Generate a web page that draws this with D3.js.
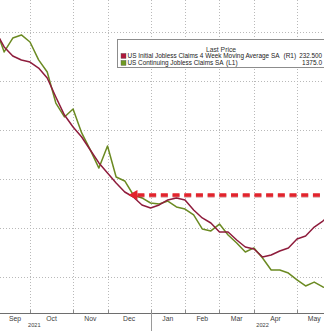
<!DOCTYPE html>
<html><head><meta charset="utf-8">
<script src="https://cdn.jsdelivr.net/npm/d3@7"></script>
<style>
html,body{margin:0;padding:0;background:#fff;overflow:hidden}
svg{display:block;font-family:"Liberation Sans",Arial,sans-serif}
</style></head>
<body>
<svg id="c" width="324" height="331"></svg>
<script>
// weekly observation dates (Fridays)
const dates = ["2021-09-03","2021-09-10","2021-09-17","2021-09-24","2021-10-01","2021-10-08","2021-10-15","2021-10-22","2021-10-29",
"2021-11-05","2021-11-12","2021-11-19","2021-11-26","2021-12-03","2021-12-10","2021-12-17","2021-12-24","2021-12-31",
"2022-01-07","2022-01-14","2022-01-21","2022-01-28","2022-02-04","2022-02-11","2022-02-18","2022-02-25",
"2022-03-04","2022-03-11","2022-03-18","2022-03-25","2022-04-01","2022-04-08","2022-04-15","2022-04-22","2022-04-29",
"2022-05-06","2022-05-13","2022-05-20","2022-05-27","2022-06-03"];
// US Continuing Jobless Claims SA (L1), thousands
const continuing = [2924,2778,2863,2882,2839,2729,2655,2465,2380,2429,2282,2178,2067,2202,2012,1988,1902,1884,1853,1847,1865,1829,1816,1780,1694,1682,1724,1657,1608,1553,1578,1516,1443,1443,1424,1382,1345,1369,1339,1330];
// US Initial Jobless Claims 4 Week Moving Average SA (R1), thousands
const initial4wk = [360.8,347.8,340.4,337.1,335.5,330.6,322.4,306.9,292.2,282.4,274.3,263.7,253.1,244.9,236.7,229.4,225.3,218.8,216.3,218.8,222.9,224.5,222.9,214.7,208.2,204.1,196.7,196.7,190.2,184.5,182.9,176.3,178.0,181.2,183.7,191.0,193.5,200.8,205.7,212.0];
// axis / grid
const leftTicks = [1400,1700,2000,2300,2600,2900];
const monthStarts = ["2021-09-03","2021-10-01","2021-11-05","2021-12-03","2022-01-07","2022-02-04","2022-03-04","2022-04-01","2022-05-06","2022-06-03"];
const monthLabels = ["Sep","Oct","Nov","Dec","Jan","Feb","Mar","Apr","May"];
const yearBreak = "2022-01-07";
const chartSpan = ["2021-07-02","2022-07-08"];
const yearLabels = ["2021","2022"];
// legend
const legendTitle = "Last Price";
const seriesNames = ["US Initial Jobless Claims 4 Week Moving Average SA","US Continuing Jobless Claims SA"];
const seriesAxes = ["(R1)","(L1)"];
const lastValues = ["232.500","1375.0"];
// annotation: arrow at last value level
const arrowLevel = 227;
const arrowDate = "2021-12-20";

const P = d3.timeParse("%Y-%m-%d");
const svg = d3.select("#c");
const W = 324, H = 331, axisY = 313;

const x = d3.scaleTime().domain([P("2021-10-01"), P("2022-05-06")]).range([30, 297]);
const yL = d3.scaleLinear().domain([1400, 2900]).range([277, 32]);
const yR = d3.scaleLinear().domain([160, 360]).range([277, 32]);

svg.append("rect").attr("width", W).attr("height", H).attr("fill", "#fff");

// horizontal grid
svg.append("g").selectAll("line").data(leftTicks).join("line")
  .attr("x1", 0).attr("x2", W)
  .attr("y1", d => Math.round(yL(d)) + 0.5).attr("y2", d => Math.round(yL(d)) + 0.5)
  .attr("stroke", "#b9b9b9").attr("stroke-width", 1).attr("stroke-dasharray", "1,2");

// vertical grid
const gridDates = monthStarts.slice(1, 9).map(P);
svg.append("g").selectAll("line").data(gridDates).join("line")
  .attr("x1", d => Math.round(x(d)) + 0.5).attr("x2", d => Math.round(x(d)) + 0.5)
  .attr("y1", 0).attr("y2", axisY)
  .attr("stroke", "#b9b9b9").attr("stroke-width", 1).attr("stroke-dasharray", "1,2");

// axis line
svg.append("line").attr("x1", 0).attr("x2", W).attr("y1", axisY + 0.5).attr("y2", axisY + 0.5)
  .attr("stroke", "#6e6e6e").attr("stroke-width", 1);
// year separator
const xb = Math.round(x(P(yearBreak))) + 0.5;
svg.append("line").attr("x1", xb).attr("x2", xb).attr("y1", axisY).attr("y2", H)
  .attr("stroke", "#9a9a9a").attr("stroke-width", 1);
// small ticks
svg.append("g").selectAll("line").data(gridDates).join("line")
  .attr("x1", d => Math.round(x(d)) + 0.5).attr("x2", d => Math.round(x(d)) + 0.5)
  .attr("y1", axisY - 3).attr("y2", axisY)
  .attr("stroke", "#8a8a8a");

// month labels
const ms = monthStarts.map(P);
svg.append("g").selectAll("text").data(monthLabels).join("text")
  .attr("x", (d, i) => (Math.max(0, x(ms[i])) + x(ms[i + 1])) / 2)
  .attr("y", 321)
  .attr("text-anchor", "middle").attr("font-size", 6.8).attr("fill", "#3c3c3c")
  .text(d => d);
// year labels
const yb = P(yearBreak), cs = chartSpan.map(P);
const yPos = [(x(cs[0]) + x(yb)) / 2, (x(yb) + x(cs[1])) / 2];
svg.append("g").selectAll("text").data(yearLabels).join("text")
  .attr("x", (d, i) => yPos[i]).attr("y", 326.8)
  .attr("text-anchor", "middle").attr("font-size", 5.6).attr("fill", "#3c3c3c")
  .text(d => d);

// series
const pts = dates.map((d, i) => ({ d: P(d), c: continuing[i], r: initial4wk[i] }));
svg.append("path").datum(pts)
  .attr("d", d3.line().x(p => x(p.d)).y(p => yL(p.c)))
  .attr("fill", "none").attr("stroke", "#6b8a22").attr("stroke-width", 1.5).attr("stroke-linejoin", "round");
svg.append("path").datum(pts)
  .attr("d", d3.line().x(p => x(p.d)).y(p => yR(p.r)))
  .attr("fill", "none").attr("stroke", "#8e1c3c").attr("stroke-width", 1.5).attr("stroke-linejoin", "round");

// annotation arrow
const ay = yR(arrowLevel), ax = x(P(arrowDate));
svg.append("line").attr("x1", ax + 9).attr("x2", W + 5).attr("y1", ay + 1).attr("y2", ay + 1)
  .attr("stroke", "#9c1a20").attr("stroke-opacity", 0.35).attr("stroke-width", 3.5).attr("stroke-dasharray", "7,4.7");
svg.append("line").attr("x1", ax + 9).attr("x2", W + 5).attr("y1", ay).attr("y2", ay)
  .attr("stroke", "#e2232c").attr("stroke-width", 3.4).attr("stroke-dasharray", "7,4.7");
svg.append("path")
  .attr("d", `M${ax},${ay} L${ax + 9},${ay - 5} L${ax + 9},${ay + 5} Z`)
  .attr("fill", "#e2232c");

// legend
const lg = svg.append("g");
lg.append("rect").attr("x", 117.5).attr("y", 39.5).attr("width", 220).attr("height", 28)
  .attr("fill", "#fff").attr("stroke", "#8c8c8c").attr("stroke-width", 1);
lg.append("text").attr("x", 221).attr("y", 51.8).attr("text-anchor", "middle")
  .attr("font-size", 6.8).attr("fill", "#333").text(legendTitle);
const swCols = ["#b0183c", "#6e9a22"];
const rowsY = [56, 63];
const nameLen = [152, 96];
const axX = [283.5, 226];
seriesNames.forEach((n, i) => {
  lg.append("rect").attr("x", 121).attr("y", rowsY[i] - 2.6).attr("width", 5).attr("height", 5)
    .attr("fill", swCols[i]).attr("stroke", "#555").attr("stroke-width", 0.4);
  lg.append("text").attr("x", 127.5).attr("y", rowsY[i] + 2.3).attr("font-size", 6.5).attr("fill", "#222")
    .attr("textLength", nameLen[i]).attr("lengthAdjust", "spacingAndGlyphs").text(n);
  lg.append("text").attr("x", axX[i]).attr("y", rowsY[i] + 2.3).attr("font-size", 6.5).attr("fill", "#222")
    .text(seriesAxes[i]);
});
lg.append("text").attr("x", 322).attr("y", rowsY[0] + 2.3).attr("text-anchor", "end").attr("font-size", 6.3).attr("fill", "#222").text(lastValues[0]);
lg.append("text").attr("x", 322).attr("y", rowsY[1] + 2.3).attr("text-anchor", "end").attr("font-size", 6.5).attr("fill", "#222").text(lastValues[1]);
</script>
</body></html>
